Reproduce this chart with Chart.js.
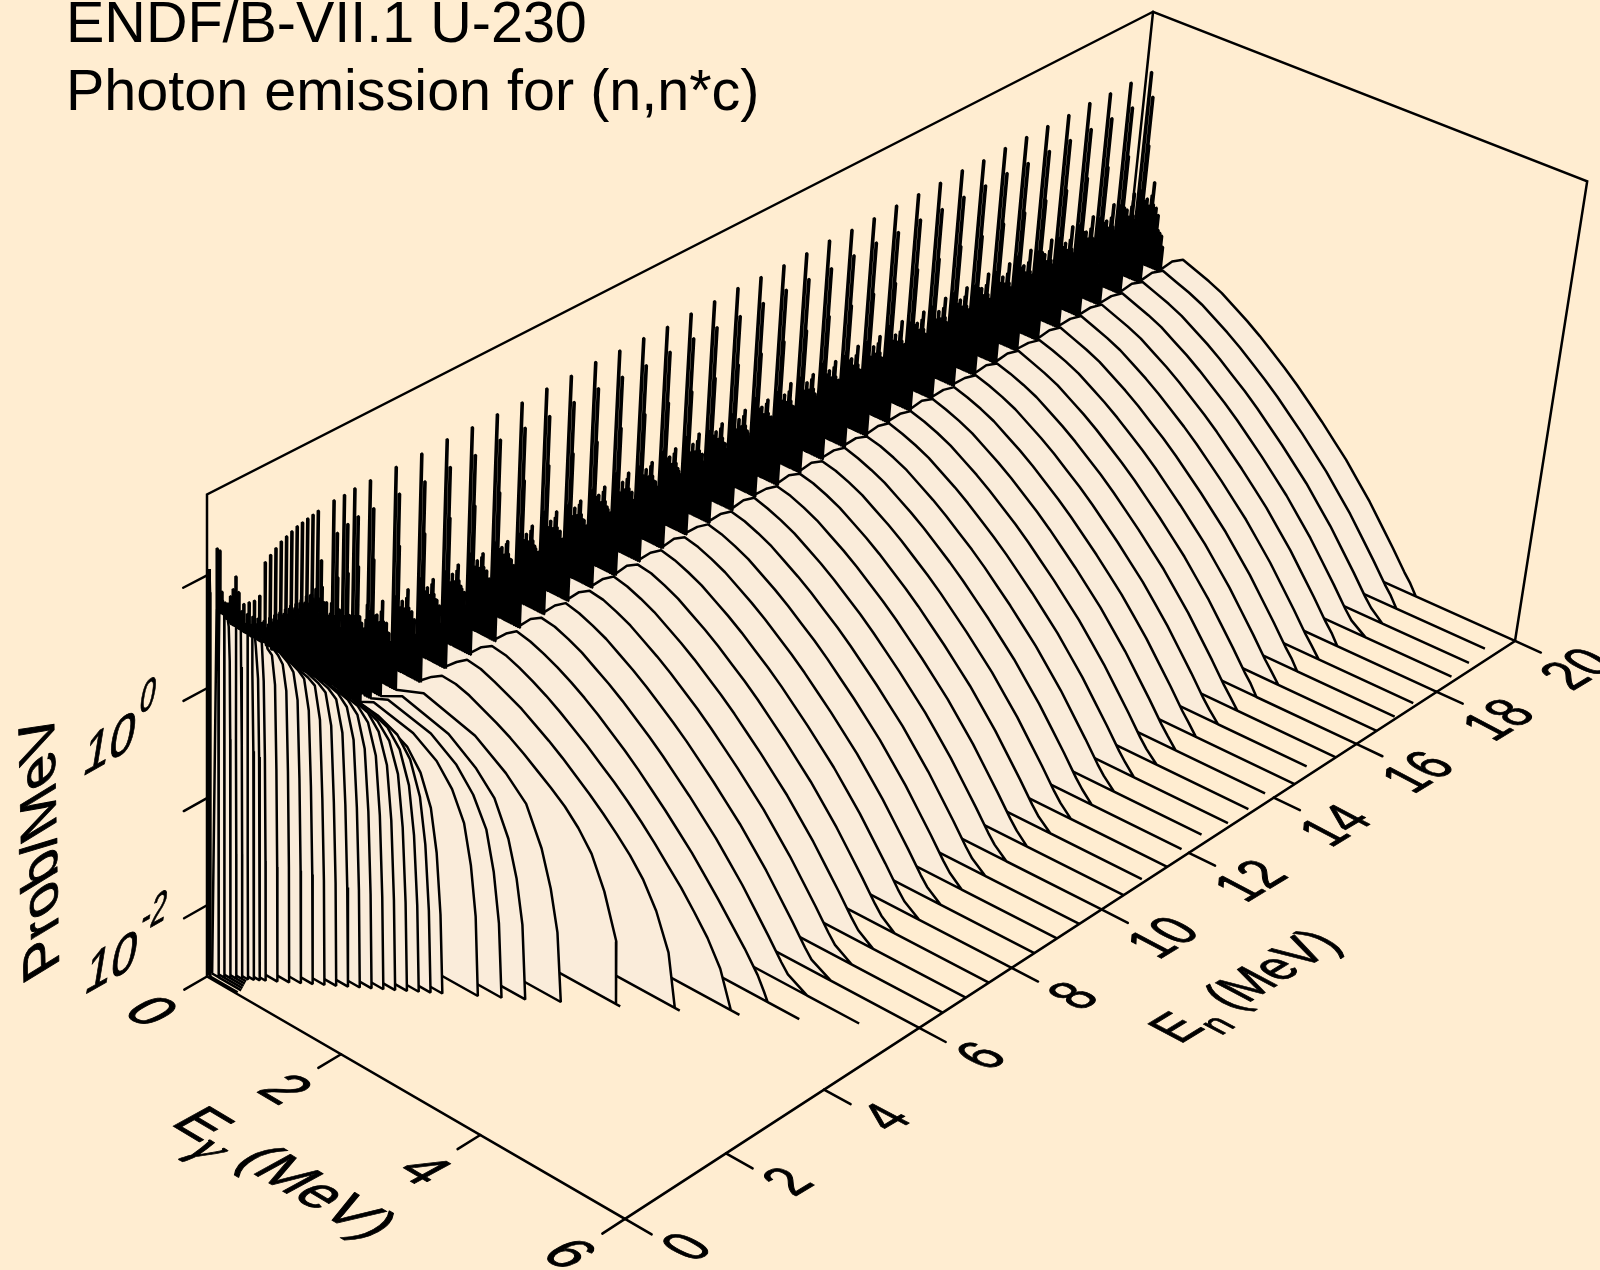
<!DOCTYPE html>
<html><head><meta charset="utf-8">
<script src="https://cdn.jsdelivr.net/npm/chart.js@4"></script>
<style>html,body{margin:0;padding:0;background:#FFEDD1;overflow:hidden}canvas{display:block}</style>
</head><body><canvas id="c" width="1600" height="1270"></canvas>
<script>
const _ = null;
const titleLines = ["ENDF/B-VII.1 U-230", "Photon emission for (n,n*c)"];
const enTicks = [0,2,4,6,8,10,12,14,16,18,20];
const gammaTicks = [0,2,4,6];
const logTicks = [-2,-1,0,1];
const logFloor = -2.68, logTop = 1.70;

// Incident energies (MeV), nearest to the viewer first
const enValues = [0.03,0.1,0.15,0.2,0.25,0.3,0.35,0.4,0.45,0.5,0.6,0.7,0.8,0.9,1,1.1,1.2,1.3,1.4,1.5,1.6,1.7,1.8,1.9,2,2.3,2.5,2.7,3,
 3.5,4,4.5,5,5.5,6,6.5,7,7.5,8,8.5,9,9.5,10,10.5,11,11.5,12,12.5,13,13.5,14,14.5,15,15.5,16,16.5,17,17.5,18,18.5,19,19.5,20];

// Discrete line energies (MeV) and log10(prob/MeV) at their tips, one row per En
const lineEnergies = [0.07,0.10,0.125,0.14,0.17,0.22,0.25,0.28,0.31,0.34,0.40];
const lineTips = [
[_,_,_,_,_,_,_,_,_,_,_],
[1.23,_,_,_,_,_,_,_,_,_,_],
[1.2,.85,.75,_,_,_,_,_,_,_,_],
[.75,.7,.72,.68,_,_,_,_,_,_,_],
[.72,.66,.68,.64,.6,.58,_,_,_,_,_],
[.7,.62,.66,.62,.58,.55,.56,_,_,_,_],
[.75,.6,.64,.6,.55,.52,.54,.5,.52,_,_],
[.8,.58,.62,.58,.54,.5,.52,.5,.48,.5,_],
[.9,.56,.6,.56,.5,.48,.5,.46,.48,.46,_],
[.75,.55,.6,.54,.5,.46,.48,.45,.44,.46,.42],
[.62,.45,.55,.5,.45,.42,.4,.44,.38,.4,.36],
[.61,.42,.5,.48,.42,.38,.36,.4,.34,.38,.3],
[.6,.4,.46,.46,.4,.32,.34,.38,.3,.34,.26],
[.62,.35,.4,.42,.36,.28,.3,.34,.26,.3,.2],
[.89,.3,.36,.42,.36,.3,.32,.36,.3,.34,.24],
[.93,.34,.38,.42,.38,.3,.3,.38,.3,.34,.26],
[.965,.32,.4,.42,.36,.3,.34,.4,.28,.34,.24],
[1.0,.34,.38,.42,.38,.28,.32,.38,.32,.36,.26],
[1.02,.3,.4,.43,.36,.32,.3,.4,.28,.34,.24],
[1.04,.34,.38,.42,.38,.3,.34,.38,.3,.36,.22],
[1.06,.32,.4,.43,.36,.28,.3,.4,.28,.32,.2],
[1.07,.34,.38,.44,.38,.32,.32,.4,.3,.34,.22],
[1.08,.32,.42,.43,.36,.28,.3,.38,.28,.32,.2],
[1.09,.3,.45,.44,.36,.28,.28,.38,.26,.3,.16],
[1.1,.24,.68,.45,.32,.22,.2,.35,.16,.22,.04],
[1.12,.1,.85,.46,.18,.02,.06,.3,.02,.08,-.1],
[1.12,.05,.88,.45,.08,-.08,-.02,.22,-.04,0,-.16],
[1.13,0,.9,.46,.02,-.14,-.06,.16,-.1,-.03,-.2],
[1.13,-.03,.9,.45,-.05,-.2,-.08,.12,-.16,-.06,-.24],
[1.13,-.02,.91,.45,-.1,-.26,-.1,.1,-.22,-.08,-.28],
[1.13,.02,.9,.44,-.14,-.28,-.12,.07,-.25,-.1,-.3],
[1.14,-.04,.91,.46,-.12,-.24,-.08,.08,-.2,-.12,-.26],
[1.13,0,.9,.45,-.16,-.3,-.14,.06,-.26,-.08,-.3],
[1.13,-.02,.92,.45,-.14,-.26,-.1,.05,-.22,-.1,-.32],
[1.12,-.06,.91,.44,-.1,-.28,-.12,.07,-.24,-.12,-.28],
[1.13,.02,.9,.46,-.14,-.24,-.08,.08,-.2,-.08,-.3],
[1.13,-.04,.91,.45,-.16,-.3,-.14,.06,-.26,-.1,-.32],
[1.14,-.02,.92,.44,-.12,-.26,-.1,.07,-.22,-.12,-.28],
[1.13,.02,.91,.45,-.14,-.28,-.12,.08,-.24,-.08,-.3],
[1.13,-.04,.9,.46,-.1,-.24,-.08,.06,-.2,-.1,-.26],
[1.12,-.02,.91,.45,-.16,-.3,-.14,.07,-.26,-.12,-.32],
[1.13,0,.92,.44,-.14,-.26,-.1,.09,-.22,-.08,-.3],
[1.13,-.06,.91,.45,-.12,-.28,-.12,.07,-.24,-.1,-.28],
[1.14,-.02,.9,.46,-.14,-.24,-.08,.08,-.2,-.12,-.3],
[1.13,.02,.91,.45,-.16,-.3,-.14,.06,-.26,-.08,-.32],
[1.13,-.04,.92,.45,-.1,-.26,-.1,.1,-.22,-.1,-.26],
[1.13,-.02,.91,.44,-.14,-.28,-.12,.07,-.24,-.12,-.3],
[1.14,0,.9,.46,-.12,-.24,-.08,.08,-.2,-.08,-.28],
[1.13,-.04,.91,.45,-.16,-.3,-.14,.11,-.26,-.1,-.32],
[1.13,-.02,.92,.45,-.14,-.26,-.1,.09,-.22,-.12,-.3],
[1.14,.02,.91,.44,-.1,-.28,-.12,.12,-.24,-.08,-.26],
[1.14,-.06,.92,.46,-.14,-.24,-.08,.1,-.2,-.1,-.3],
[1.14,-.02,.91,.45,-.12,-.3,-.14,.12,-.26,-.12,-.28],
[1.15,0,.92,.46,-.16,-.26,-.1,.11,-.22,-.08,-.32],
[1.14,-.04,.92,.45,-.14,-.28,-.12,.13,-.24,-.1,-.3],
[1.15,-.02,.93,.46,-.1,-.24,-.08,.12,-.2,-.12,-.26],
[1.15,.02,.92,.46,-.14,-.3,-.14,.14,-.26,-.08,-.3],
[1.15,-.04,.93,.47,-.12,-.26,-.1,.13,-.22,-.1,-.28],
[1.15,-.02,.93,.46,-.16,-.28,-.12,.15,-.24,-.12,-.32],
[1.16,0,.93,.47,-.14,-.24,-.08,.14,-.2,-.08,-.3],
[1.15,-.04,.93,.47,-.1,-.3,-.14,.15,-.26,-.1,-.26],
[1.15,-.02,.93,.47,-.14,-.26,-.1,.15,-.22,-.12,-.3],
[1.15,.02,.93,.47,-.12,-.28,-.12,.15,-.24,-.08,-.28]
];
// Shorter, closely packed lines; rows start at enValues index DENSE_START (En = 1 MeV)
const DENSE_START = 14;
const denseEnergies = [.16,.19,.36,.43,.46,.49];
const denseTips = [
[.38,.36,.3,.24,.18,.12],[.38,.34,.3,.26,.2,.14],[.4,.36,.28,.26,.18,.12],[.38,.38,.32,.24,.2,.14],[.4,.36,.3,.26,.18,.12],
[.38,.38,.28,.24,.22,.14],[.4,.36,.32,.26,.18,.14],[.38,.38,.3,.28,.2,.12],[.4,.38,.28,.24,.18,.14],[.38,.36,.3,.26,.2,.1],[.3,.28,.2,.14,.08,0],
[.1,.02,0,-.06,-.14,-.2],[.02,-.06,-.06,-.12,-.2,-.26],[-.04,-.12,-.1,-.16,-.24,-.3],[-.08,-.16,-.14,-.2,-.28,-.34],
[-.12,-.24,-.18,-.26,-.34,-.42],[-.08,-.28,-.22,-.3,-.36,-.44],[-.14,-.22,-.16,-.32,-.32,-.4],[-.1,-.3,-.24,-.28,-.38,-.42],[-.06,-.24,-.2,-.26,-.34,-.44],
[-.14,-.28,-.16,-.34,-.36,-.4],[-.1,-.22,-.24,-.3,-.32,-.44],[-.12,-.3,-.18,-.26,-.38,-.42],[-.06,-.24,-.22,-.32,-.34,-.44],[-.14,-.26,-.2,-.28,-.32,-.4],
[-.1,-.3,-.16,-.26,-.38,-.42],[-.06,-.22,-.24,-.34,-.34,-.44],[-.12,-.28,-.18,-.28,-.36,-.42],[-.08,-.24,-.22,-.26,-.32,-.44],[-.14,-.3,-.2,-.32,-.38,-.4],
[-.06,-.26,-.16,-.3,-.34,-.42],[-.1,-.22,-.24,-.26,-.36,-.44],[-.12,-.28,-.18,-.34,-.32,-.42],[-.08,-.24,-.22,-.28,-.38,-.44],[-.06,-.3,-.2,-.26,-.34,-.4],
[-.14,-.26,-.16,-.32,-.36,-.42],[-.1,-.22,-.24,-.3,-.32,-.44],[-.06,-.28,-.18,-.26,-.38,-.42],[-.12,-.24,-.22,-.34,-.34,-.44],[-.08,-.3,-.2,-.28,-.36,-.4],
[-.04,-.26,-.16,-.26,-.32,-.42],[-.1,-.22,-.24,-.32,-.38,-.44],[-.06,-.28,-.18,-.3,-.34,-.42],[-.02,-.24,-.22,-.26,-.36,-.44],[-.08,-.26,-.2,-.34,-.32,-.4],
[-.04,-.22,-.16,-.28,-.38,-.42],[-.06,-.28,-.24,-.26,-.34,-.44],[-.02,-.24,-.18,-.32,-.36,-.42],[-.06,-.26,-.2,-.3,-.32,-.42]
];
// Lines seen at all En above 2.3 MeV at about the same height
const sharedLineStart = 2.3;
const sharedLineEnergies = [.2,.235,.265,.295,.325,.38];
const sharedLineTips = [-.03,-.09,.02,-.06,-.1,-.14];
// Smooth level under the lines, log10(prob/MeV), one value per En
const lineBase = [1,.7,.66,.6,.56,.53,.5,.47,.45,.42,.38,.32,.26,.18,.1,.06,.01,-.04,-.1,-.16,-.21,-.27,-.33,-.39,-.46,-.55,-.57,-.6,-.62,
 -.68,-.68,-.68,-.68,-.68,-.68,-.68,-.68,-.69,-.68,-.68,-.67,-.68,-.68,-.67,-.68,-.68,-.67,-.67,-.68,-.67,-.67,-.67,-.66,-.67,-.67,-.66,-.67,-.66,-.66,-.66,-.66,-.66,-.66];

// Continuum for En <= 3 MeV, sampled at these fractions of En
const lowFractions = [.3,.55,.7,.8,.88,.93,.97];
const lowContinuum = [
[1.05,.95,.85,.7,.4,-.2,-1.1],
[.7,.7,.68,.62,.35,-.3,-1.3],
[.68,.66,.64,.6,.3,-.4,-1.4],
[.62,.6,.58,.55,.25,-.45,-1.45],
[.58,.56,.54,.5,.2,-.5,-1.5],
[.55,.53,.5,.46,.2,-.5,-1.5],
[.52,.5,.47,.44,.15,-.55,-1.5],
[.5,.47,.44,.4,.15,-.55,-1.55],
[.48,.45,.42,.38,.1,-.6,-1.55],
[.45,.42,.39,.35,.08,-.6,-1.55],
[.42,.38,.34,.3,.05,-.7,-1.6],
[.36,.32,.28,.22,0,-.72,-1.6],
[.3,.26,.21,.15,-.08,-.78,-1.62],
[.22,.18,.14,.09,-.17,-.85,-1.65],
[.15,.1,.07,.03,-.25,-.95,-1.7],
[.1,.06,.02,-.03,-.3,-.98,-1.72],
[.05,.01,-.03,-.09,-.36,-1,-1.75],
[0,-.04,-.08,-.16,-.42,-1.02,-1.77],
[-.05,-.1,-.14,-.23,-.5,-1.05,-1.8],
[-.1,-.16,-.2,-.3,-.56,-1.08,-1.82],
[-.15,-.21,-.26,-.38,-.64,-1.12,-1.84],
[-.22,-.27,-.34,-.46,-.72,-1.18,-1.86],
[-.28,-.33,-.4,-.54,-.82,-1.25,-1.88],
[-.34,-.39,-.47,-.63,-.92,-1.33,-1.92],
[-.4,-.48,-.58,-.75,-1.02,-1.4,-1.95],
[-.49,-.58,-.72,-.9,-1.15,-1.5,-1.95],
[-.5,-.6,-.76,-.95,-1.2,-1.55,-2],
[-.5,-.62,-.8,-.98,-1.28,-1.6,-2],
[-.52,-.66,-.85,-1.03,-1.36,-1.68,-2.05]
];
// Where the floor line of the lowest-energy curves stops (MeV)
const lowFloorEnd = [.44,.44,.42,.4,.38,.36,.35,.4,.45];

// Continuum for En >= 3.5 MeV: top of the hump, one row per En
const headGamma = [.5,.65,.8];
const headLog = [
[-.66,-.58,-.52],[-.66,-.57,-.5],[-.66,-.56,-.5],[-.66,-.56,-.49],[-.66,-.55,-.49],[-.66,-.55,-.48],[-.66,-.55,-.49],[-.66,-.55,-.48],[-.67,-.55,-.49],
[-.66,-.55,-.48],[-.66,-.54,-.48],[-.65,-.55,-.48],[-.66,-.55,-.48],[-.66,-.54,-.47],[-.65,-.55,-.48],[-.66,-.54,-.48],[-.66,-.54,-.48],[-.65,-.54,-.47],
[-.65,-.54,-.48],[-.66,-.54,-.47],[-.65,-.54,-.47],[-.65,-.53,-.47],[-.65,-.54,-.47],[-.64,-.54,-.47],[-.65,-.53,-.47],[-.65,-.53,-.46],[-.64,-.54,-.47],
[-.65,-.53,-.46],[-.64,-.53,-.46],[-.64,-.53,-.46],[-.64,-.53,-.46],[-.64,-.52,-.46],[-.64,-.52,-.46],[-.64,-.52,-.46]
];
// Falling side of the hump: the curves for En = 3.5 .. 5 leave it early, the others share it
const tailGamma = [1,1.2,1.4,1.6,1.8,2,2.2,2.4,2.6,2.8,3,3.2,3.4,3.6,3.8,4,4.2,4.4,4.5];
const earlyTails = [
[-.53,-.57,-.63,-.69,-.76,-.84,-.93,-1.02,-1.12,-1.25,-1.42,-1.7,-2.1],
[-.52,-.57,-.63,-.69,-.77,-.85,-.94,-1.04,-1.14,-1.25,-1.37,-1.5,-1.66,-1.88,-2.2],
[-.52,-.57,-.63,-.7,-.78,-.87,-.96,-1.06,-1.16,-1.27,-1.39,-1.52,-1.66,-1.8,-1.96,-2.13,-2.35],
[-.52,-.57,-.63,-.7,-.78,-.87,-.97,-1.07,-1.18,-1.3,-1.42,-1.55,-1.68,-1.83,-1.98,-2.14,-2.3,-2.48,-2.6]
];
const sharedTail = [-.51,-.56,-.62,-.7,-.78,-.87,-.97,-1.07,-1.18,-1.3,-1.42,-1.55,-1.68,-1.83,-1.98,-2.15,-2.32,-2.5,-2.58];
// Photon energy where each continuum (En >= 3.5) reaches the floor, and where its floor line stops
const highKink = [3.44,3.93,4.38,4.56,4.78,4.78,4.75,4.72,4.7,4.72,4.7,4.68,4.7,4.68,4.66,4.68,4.66,4.65,4.66,4.64,4.66,4.63,4.62,4.64,4.62,4.6,4.62,4.6,4.62,4.6,4.72,4.68,4.6,4.6];
const highEnd = [3.5,4,4.5,5,5.5,6,6,6,6,6,6,6,6,6,6,5.95,6,5.9,5.88,5.95,5.94,5.88,6,5.88,6,6,6,5.97,5.95,6,5.93,5.9,5.85,6];

// Perspective of the box: u = Eg/6, v = En/20, w = height
const CAM = {x:[207,383,1058,-11.78], y:[976.5,174.2,-453.5,-510.7], h:[1,-.05597,.14375,-.05693]};
function project(eg, en, lg){
  const u=eg/6, v=en/20, w=(lg-logFloor)*0.2281;
  const d=CAM.h[0]+CAM.h[1]*u+CAM.h[2]*v+CAM.h[3]*w;
  return {x:(CAM.x[0]+CAM.x[1]*u+CAM.x[2]*v+CAM.x[3]*w)/d, y:(CAM.y[0]+CAM.y[1]*u+CAM.y[2]*v+CAM.y[3]*w)/d};
}
const LINE_HALF = 0.008;
function curve(k){
  const en=enValues[k], lines=[];
  const nLow=lowContinuum.length;
  lineEnergies.forEach((e,j)=>{ if(lineTips[k][j]!==null) lines.push([e,lineTips[k][j]]); });
  if(k>=DENSE_START) denseEnergies.forEach((e,j)=>lines.push([e,denseTips[k-DENSE_START][j]]));
  if(en>=sharedLineStart) sharedLineEnergies.forEach((e,j)=>lines.push([e,sharedLineTips[j]]));
  lines.sort((a,b)=>a[0]-b[0]);
  const pts=[[0,logFloor]];
  lines.forEach(([e,t])=>{
    if(e+LINE_HALF>=en*.97) return;
    pts.push([e-LINE_HALF,lineBase[k]],[e-LINE_HALF,t],[e+LINE_HALF,t],[e+LINE_HALF,lineBase[k]]);
  });
  const rest=[];
  if(k<nLow){
    lowContinuum[k].forEach((l,j)=>rest.push([lowFractions[j]*en,l]));
    rest.push([en,logFloor]);
    if(k<lowFloorEnd.length && lowFloorEnd[k]>en) rest.push([lowFloorEnd[k],logFloor]);
  }else{
    const i=k-nLow;
    headLog[i].forEach((l,j)=>rest.push([headGamma[j],l]));
    const tail=i<earlyTails.length?earlyTails[i]:sharedTail;
    tail.forEach((l,j)=>{ if(tailGamma[j]<highKink[i]) rest.push([tailGamma[j],l]); });
    rest.push([highKink[i],logFloor],[highEnd[i],logFloor]);
  }
  const last=pts[pts.length-1][0];
  const all=pts.concat(rest.filter(p=>p[0]>last));
  all.push([0,logFloor]);
  return all.map(p=>project(p[0],en,p[1]));
}
const LW=2.5;
const datasets=[];
enValues.forEach((en,k)=>datasets.push({data:curve(k),borderColor:'#000',borderWidth:LW,backgroundColor:'#FAECDA',fill:'shape',pointRadius:0,tension:0,borderJoinStyle:'bevel',borderCapStyle:'butt'}));
function seg(points){datasets.push({data:points,borderColor:'#000',borderWidth:LW,fill:false,pointRadius:0,tension:0,borderJoinStyle:'miter',borderCapStyle:'round'});}
const P=project;
seg([P(0,0,logFloor),P(0,0,logTop),P(0,20,logTop),P(6,20,logTop),P(6,20,logFloor),P(6,0,logFloor),P(0,0,logFloor)]);
seg([P(0,20,logTop),P(0,20,logFloor)]);
enTicks.forEach(t=>seg([P(6,t,logFloor),P(6.36,t,logFloor)]));
gammaTicks.forEach(t=>seg([P(t,0,logFloor),P(t,-.44,logFloor)]));
logTicks.forEach(t=>seg([P(0,0,t),P(0,-.44,t)]));

const SANS='"Liberation Sans",Arial,sans-serif';
function planar(ctx,runs,cx,cy,base,up,sx,sy){
  ctx.save();
  let total=0;
  const fontOf=r=>(r.style||'')+' '+(100*(r.size||1))+'px '+(r.family||SANS);
  runs.forEach(r=>{ctx.font=fontOf(r);r.w=ctx.measureText(r.t).width*(r.xs||1);total+=r.w;});
  ctx.transform(base[0]*sx/100,base[1]*sx/100,-up[0]*sy/100,-up[1]*sy/100,cx,cy);
  let x=-total/2;
  ctx.lineWidth=1.6;ctx.strokeStyle='#000';ctx.lineJoin='round';
  runs.forEach(r=>{ctx.save();ctx.font=fontOf(r);ctx.translate(x,36-(r.rise||0)*100);ctx.scale(r.xs||1,1);ctx.fillText(r.t,0,0);ctx.strokeText(r.t,0,0);ctx.restore();x+=r.w;});
  ctx.restore();
}
const textPlugin={id:'texts',beforeDraw(chart){const c=chart.ctx;c.save();c.fillStyle='#FFEDD1';c.fillRect(0,0,1600,1270);c.restore();},
 afterDraw(chart){
  const c=chart.ctx;c.save();c.fillStyle='#000';c.textAlign='left';c.textBaseline='alphabetic';
  c.font='57.5px '+SANS;c.fillText(titleLines[0],66,42);c.fillText(titleLines[1],66,110);
  const enB=[.855,-.52],enU=[-.885,-.466],gB=[.86,.51],gU=[.88,-.48],zB=[.87,-.49],zU=[.16,-.987];
  enTicks.forEach(t=>{const p=P(6,t,logFloor);planar(c,[{t:String(t)}],p.x+60,p.y+27,enB,enU,47,60);});
  gammaTicks.forEach(t=>{const p=P(t,0,logFloor);planar(c,[{t:String(t)}],p.x-54,p.y+34,gB,gU,55,60);});
  [[-2,'-2',[-82.6,48]],[0,'0',[-89,49]]].forEach(([v,s,off])=>{const p=P(0,0,v);
    planar(c,[{t:'10'},{t:s,size:.8,xs:.75,rise:.57}],p.x+off[0],p.y+off[1],zB,zU,53,59);});
  planar(c,[{t:'Prob/MeV'}],38,848,[-.02,-1],[-.85,.52],58,60);
  planar(c,[{t:'E'},{t:'γ',style:'italic',size:.95,rise:-.3,family:'"Liberation Serif",serif'},{t:' (MeV)'}],287,1172,gB,gU,57,60);
  planar(c,[{t:'E'},{t:'n',size:.72,rise:-.28},{t:' (MeV)'}],1243,985,enB,enU,47,58);
  c.restore();
 }};
new Chart(document.getElementById('c'),{type:'line',data:{datasets},plugins:[textPlugin],options:{
  responsive:false,animation:false,events:[],
  layout:{padding:0},
  scales:{x:{type:'linear',min:0,max:1600,display:false},y:{type:'linear',min:0,max:1270,reverse:true,display:false}},
  plugins:{legend:{display:false},tooltip:{enabled:false},title:{display:false},filler:{drawTime:'beforeDatasetDraw',propagate:false}}
}});
</script></body></html>
